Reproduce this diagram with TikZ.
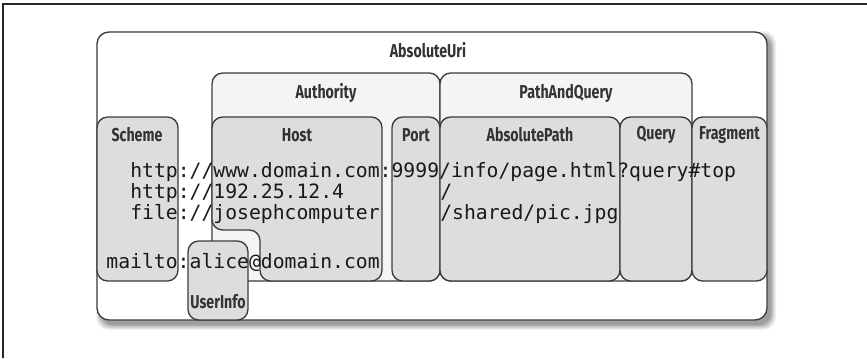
\documentclass[tikz,border=0pt]{standalone}
\usepackage{fontspec}
\newfontfamily\monof{DejaVu Sans Mono}
\newfontfamily\labf[FakeStretch=0.76]{Fira Sans}
\definecolor{boxfill}{RGB}{220,221,223}
\definecolor{grpfill}{RGB}{244,244,244}
\definecolor{edge}{RGB}{60,60,62}
\begin{document}
\begin{tikzpicture}[x=0.75pt,y=-0.75pt,
  frame/.style={draw=black!85,line width=0.8pt},
  outerbox/.style={draw=edge,line width=1pt,fill=white,rounded corners=9pt},
  grpbox/.style={draw=edge,line width=1pt,fill=grpfill,rounded corners=8pt},
  partbox/.style={draw=edge,line width=1pt,fill=boxfill,rounded corners=8pt},
  lab/.style={font=\labf\bfseries\fontsize{14}{16}\selectfont,text=black!80,inner sep=0pt},
  code/.style={font=\monof\fontsize{14.8}{17}\selectfont,text=black!90,inner sep=0pt,anchor=base west}]
\useasboundingbox (0,0) rectangle (867,358);
\draw[frame] (3,358) -- (3,4) -- (867,4);
% shadow
\foreach \d/\o in {5/0.05,4/0.06,3/0.07,2/0.08,1/0.09,0/0.10}{
  \fill[black,opacity=\o,rounded corners=9pt] (101-\d,36-\d) rectangle (771+\d,325+\d);
}
\draw[outerbox] (97,32) rectangle (767,320);
\draw[grpbox] (212,73) rectangle (440,281);
\draw[grpbox] (440,73) rectangle (692,281);
\draw[partbox] (97,117) rectangle (178,281);
\draw[partbox] (212,117) -- (382,117) -- (382,281) -- (260,281) -- (260,230) -- (212,230) -- cycle;
\draw[partbox] (392,117) rectangle (440,281);
\draw[partbox] (440,117) rectangle (620,281);
\draw[partbox] (620,117) rectangle (692,281);
\draw[partbox] (692,117) rectangle (767,281);
\draw[partbox] (188,241) rectangle (248,320);
% labels
\node[lab] (absuri) at (428,50) {AbsoluteUri};
\node[lab] (authority) at (326,93) {Authority};
\node[lab] (pathq) at (566,93) {PathAndQuery};
\node[lab] (scheme) at (137,135) {Scheme};
\node[lab] (host) at (297,135) {Host};
\node[lab] (port) at (416,135) {Port};
\node[lab] (abspath) at (530,135) {AbsolutePath};
\node[lab] (query) at (656,135) {Query};
\node[lab] (fragment) at (729.5,135) {Fragment};
\node[lab] (userinfo) at (218,302) {UserInfo};
% code lines
\node[code] (l1) at (130,177) {http://www.domain.com:9999/info/page.html?query\#top};
\node[code] (l2) at (130,198) {http://192.25.12.4};
\node[code] (l2b) at (440,198) {/};
\node[code] (l3) at (130,219) {file://josephcomputer};
\node[code] (l3b) at (440,219) {/shared/pic.jpg};
\node[code] (l4) at (106.2,268) {mailto:alice@domain.com};
\end{tikzpicture}
\end{document}
